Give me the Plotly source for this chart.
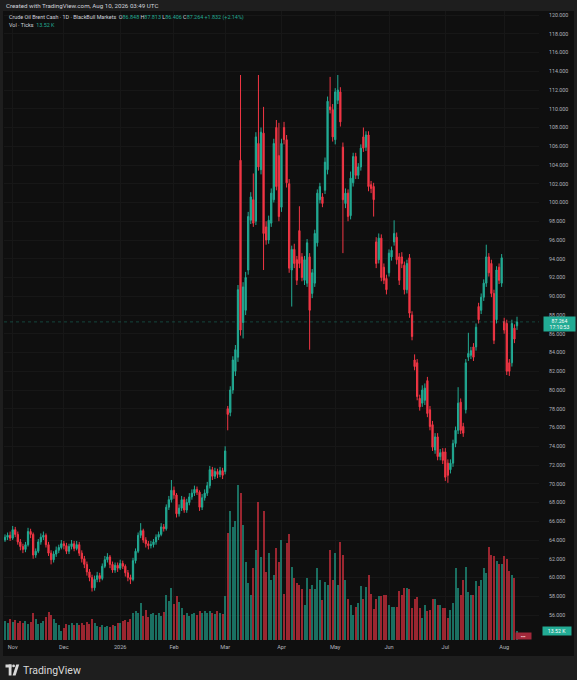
import plotly.graph_objects as go

# ---------------- data ----------------
open_ = [
    64.0, 64.3, 64.5, 64.2, 65.1, 64.6, 63.8, 63.3, 63.0, 63.5,
    64.9, 64.6, 62.4, 62.8, 63.8, 64.3, 64.5, 63.5, 62.6, 61.9,
    62.5, 62.9, 63.2, 63.6, 63.4, 62.8, 63.3, 63.6, 63.1, 63.5,
    62.6, 62.0, 61.4, 60.6, 60.0, 58.9, 59.8, 60.2, 59.9, 61.2,
    61.9, 62.2, 61.4, 60.8, 61.3, 61.0, 61.5, 61.2, 60.5, 60.0,
    59.8, 61.8, 62.8, 64.5, 65.0, 64.0, 63.6, 63.4, 63.5, 63.8,
    64.3, 64.6, 65.4, 65.2, 67.5, 68.3, 69.3, 68.8, 66.8, 67.4,
    68.3, 67.2, 68.0, 68.6, 69.0, 69.4, 69.1, 67.5, 68.5, 69.0,
    69.8, 71.5, 70.8, 71.3, 71.0, 71.4,
    71.3, 78.0, 77.6, 80.0, 82.0, 83.5, 104.5, 87.2, 88.5, 92.8,
    98.1, 100.3, 98.0, 106.3, 103.5, 107.4, 97.4, 96.0, 97.8, 100.3,
    108.0, 105.0, 99.5, 108.0, 106.7, 102.0, 92.8, 95.0, 93.9, 97.0,
    94.2, 91.7, 91.4, 94.2, 90.3, 91.4, 95.7, 100.3, 100.6, 101.3,
    103.5, 110.2, 109.9, 106.7, 110.9, 111.8, 105.9, 99.9, 101.0, 98.6,
    102.1, 104.9, 102.9, 103.8, 107.0, 105.9, 107.2, 101.9, 101.7, 95.8,
    93.9, 96.2, 93.1, 91.9, 92.5, 94.2, 95.8, 96.3, 94.2, 94.2,
    93.3, 90.7, 94.1, 88.0, 83.2, 82.9, 79.1, 78.6, 78.9, 81.0,
    77.9, 76.3, 73.6, 75.0, 72.9, 73.4, 73.4, 72.2, 71.5, 72.2,
    74.3, 75.7, 78.7, 76.1, 77.9, 83.5, 83.7, 84.6, 84.6, 88.9,
    88.5, 89.9, 91.4, 94.2, 93.5, 90.3, 87.5, 93.1, 91.4, 87.3,
    87.1, 82.9, 82.9, 86.6, 86.848,
]
high = [
    64.6, 64.8, 64.9, 65.5, 65.4, 64.9, 64.1, 63.6, 63.8, 65.3,
    65.2, 64.8, 63.1, 64.1, 64.7, 64.9, 64.7, 63.8, 62.9, 62.8,
    63.3, 63.5, 64.0, 63.9, 63.7, 63.6, 64.0, 63.9, 63.9, 63.8,
    62.9, 62.3, 61.7, 60.9, 60.3, 60.2, 60.6, 60.5, 61.5, 62.3,
    62.6, 62.4, 61.7, 61.6, 61.6, 61.9, 61.8, 61.4, 60.8, 60.3,
    62.1, 63.1, 64.8, 65.8, 65.2, 64.3, 63.9, 63.9, 64.1, 64.6,
    64.9, 65.8, 65.7, 67.8, 68.7, 70.4, 69.7, 69.0, 67.8, 68.7,
    68.6, 68.4, 69.0, 69.4, 69.8, 69.7, 69.3, 68.9, 69.4, 70.2,
    71.9, 71.8, 71.7, 71.6, 71.8, 71.7,
    74.0, 78.3, 80.4, 83.6, 84.8, 91.2, 113.6, 91.5, 92.6, 99.0,
    101.1, 103.1, 107.5, 113.6, 108.0, 110.2, 98.0, 98.6, 101.5, 106.8,
    108.8, 108.5, 106.8, 108.6, 107.2, 102.5, 95.4, 95.6, 94.3, 99.6,
    94.6, 94.3, 96.1, 94.6, 92.9, 97.1, 101.4, 102.1, 101.0, 104.8,
    111.3, 113.4, 110.5, 112.2, 113.6, 112.3, 106.4, 101.5, 101.4, 103.3,
    105.3, 105.3, 104.2, 106.2, 108.0, 107.6, 107.6, 102.3, 102.1, 96.3,
    96.7, 96.6, 93.5, 92.3, 95.0, 95.3, 98.1, 96.8, 94.6, 94.7,
    93.7, 93.9, 94.5, 88.4, 83.8, 83.3, 79.5, 80.5, 80.7, 81.4,
    78.3, 76.7, 75.4, 75.4, 73.7, 73.8, 73.8, 72.6, 72.6, 74.7,
    76.1, 80.3, 79.1, 76.5, 83.3, 86.1, 84.6, 85.0, 87.1, 89.3,
    90.3, 91.8, 95.5, 94.6, 93.9, 90.7, 93.2, 93.5, 94.5, 87.7,
    87.5, 83.3, 87.5, 87.0, 87.813,
]
low = [
    63.8, 64.0, 63.9, 64.0, 64.3, 63.5, 62.9, 62.6, 62.7, 63.3,
    64.2, 62.0, 62.1, 62.6, 63.5, 64.0, 63.2, 62.3, 61.4, 61.6,
    62.2, 62.6, 63.0, 63.0, 62.5, 62.5, 63.0, 62.8, 62.9, 62.3,
    61.6, 61.0, 60.2, 59.6, 58.5, 58.6, 59.5, 59.5, 59.7, 61.0,
    61.6, 61.0, 60.5, 60.5, 60.6, 60.8, 60.9, 60.1, 59.6, 59.3,
    59.6, 61.5, 62.6, 64.2, 63.7, 63.2, 63.0, 63.1, 63.2, 63.5,
    64.0, 64.4, 64.9, 65.0, 67.2, 68.0, 68.4, 66.4, 66.5, 67.1,
    66.9, 66.9, 67.7, 68.3, 68.7, 68.8, 67.1, 67.2, 68.2, 68.7,
    69.5, 70.4, 70.5, 70.6, 70.7, 70.5,
    71.0, 75.7, 77.2, 79.6, 81.5, 83.0, 85.8, 85.5, 88.0, 92.3,
    97.7, 97.4, 97.6, 103.4, 103.0, 92.8, 95.5, 95.6, 97.4, 100.0,
    101.3, 98.0, 99.0, 106.2, 101.6, 92.5, 88.9, 93.0, 91.2, 93.0,
    91.6, 91.2, 91.0, 84.3, 89.8, 91.0, 95.3, 99.9, 99.5, 100.9,
    103.0, 109.5, 106.5, 106.2, 110.5, 108.1, 94.6, 99.4, 98.0, 98.2,
    101.7, 102.5, 102.5, 103.4, 105.4, 105.5, 101.2, 101.0, 98.5, 93.0,
    93.5, 91.6, 91.3, 90.2, 92.1, 93.8, 95.4, 93.4, 91.2, 93.0,
    90.2, 90.3, 87.7, 85.3, 82.1, 78.9, 77.8, 78.2, 78.4, 77.1,
    75.7, 73.5, 73.2, 72.5, 72.5, 72.1, 70.3, 70.1, 71.1, 71.8,
    73.9, 75.3, 75.3, 75.0, 77.5, 83.1, 83.3, 83.1, 84.2, 87.1,
    88.1, 89.5, 91.0, 92.1, 89.9, 84.9, 87.1, 91.3, 91.0, 86.0,
    81.6, 81.5, 82.5, 85.0, 86.406,
]
close = [
    64.3, 64.5, 64.2, 65.1, 64.6, 63.8, 63.3, 63.0, 63.5, 64.9,
    64.6, 62.4, 62.8, 63.8, 64.3, 64.5, 63.5, 62.6, 61.9, 62.5,
    62.9, 63.2, 63.6, 63.4, 62.8, 63.3, 63.6, 63.1, 63.5, 62.6,
    62.0, 61.4, 60.6, 60.0, 58.9, 59.8, 60.2, 59.9, 61.2, 61.9,
    62.2, 61.4, 60.8, 61.3, 61.0, 61.5, 61.2, 60.5, 60.0, 59.8,
    61.8, 62.8, 64.5, 65.0, 64.0, 63.6, 63.4, 63.5, 63.8, 64.3,
    64.6, 65.4, 65.2, 67.5, 68.3, 69.3, 68.8, 66.8, 67.4, 68.3,
    67.2, 68.0, 68.6, 69.0, 69.4, 69.1, 67.5, 68.5, 69.0, 69.8,
    71.5, 70.8, 71.3, 71.0, 71.4, 70.9,
    73.5, 77.4, 80.0, 83.2, 84.3, 90.7, 86.4, 91.0, 92.0, 98.5,
    100.6, 97.8, 107.0, 103.8, 107.5, 96.7, 96.0, 98.1, 101.0, 106.3,
    101.7, 98.5, 106.3, 106.7, 102.1, 93.0, 95.0, 93.5, 91.7, 93.5,
    92.0, 93.9, 95.7, 88.5, 92.5, 96.7, 101.0, 101.7, 99.9, 104.3,
    110.8, 109.9, 107.0, 111.8, 112.0, 108.6, 100.3, 101.0, 98.5, 102.6,
    104.9, 102.9, 103.8, 105.8, 105.8, 107.2, 101.7, 101.5, 100.3, 93.5,
    96.2, 92.0, 91.7, 90.7, 94.6, 94.9, 96.7, 93.9, 91.7, 93.5,
    90.7, 93.5, 88.2, 85.7, 82.5, 79.3, 78.2, 80.0, 80.2, 77.5,
    76.1, 73.9, 75.0, 72.9, 73.3, 72.5, 70.7, 70.9, 72.2, 74.3,
    75.7, 78.6, 75.7, 75.4, 82.9, 83.9, 84.2, 83.5, 86.7, 87.5,
    89.9, 91.4, 94.2, 92.5, 90.3, 85.3, 92.8, 91.7, 94.1, 86.4,
    82.0, 82.0, 87.1, 85.432, 87.264,
]
# volume in thousands of ticks
volume_k = [
    29, 26, 31, 27, 30, 25, 28, 26, 28, 24,
    27, 41, 31, 24, 26, 29, 35, 42, 38, 32,
    25, 22, 14, 18, 24, 22, 26, 23, 25, 23,
    26, 23, 27, 24, 31, 26, 21, 19, 22, 19,
    21, 20, 23, 21, 25, 26, 28, 30, 27, 31,
    40, 43, 41, 55, 36, 45, 34, 39, 40, 37,
    41, 36, 42, 68, 59, 78, 54, 66, 57, 48,
    38, 40, 36, 39, 41, 37, 43, 40, 43, 41,
    44, 41, 39, 43, 41, 39,
    66, 161, 193, 170, 179, 233, 221, 173, 117, 86,
    68, 108, 135, 207, 124, 193, 102, 131, 90, 97,
    138, 117, 150, 69, 145, 159, 110, 93, 86, 83,
    76, 52, 93, 76, 83, 76, 108, 90, 60, 87,
    83, 135, 90, 131, 83, 147, 128, 90, 62, 52,
    37, 50, 55, 81, 62, 79, 97, 69, 46, 62,
    66, 66, 68, 68, 52, 50, 50, 50, 73, 68,
    78, 78, 76, 48, 62, 64, 48, 33, 52, 43,
    45, 62, 61, 52, 52, 48, 48, 33, 45, 55,
    108, 78, 68, 90, 110, 72, 68, 68, 88, 81,
    90, 108, 101, 140, 128, 126, 119, 114, 114, 126,
    122, 104, 97, 93, 13.52,
]
month_labels = ["Nov", "Dec", "2026", "Feb", "Mar", "Apr", "May", "Jun", "Jul", "Aug"]
month_idx = [3, 23, 45, 66, 86, 108, 129, 150, 172, 195]
price_ticks = list(range(56, 121, 2))

assert len(open_) == len(high) == len(low) == len(close) == len(volume_k)

# ---------------- layout geometry ----------------
N = len(close)
idx = list(range(N))
W, H = 577, 680
L, R, T, B = 4, 38, 11, 40
pw, ph = W - L - R, H - T - B
first_px, last_px = 5, 517
s = (last_px - first_px) / (N - 1)
x0 = -(first_px - L) / s
x1 = (N - 1) + (L + pw - last_px) / s
ppu = 9.375
ytop = 120 + (15 - T) / ppu
ybot = 120 - (T + ph - 15) / ppu
vmax = ph * 1.5


def px_x(px):
    return (px - L) / pw


def px_y(py):
    return (T + ph - py) / ph


UP, DN = "#22ab94", "#f23645"
FONT = "Roboto"
GRAY = "#b2b5be"

vol_colors = ["rgba(34,171,148,0.62)" if c >= o else "rgba(242,54,69,0.62)"
              for o, c in zip(open_, close)]

fig = go.Figure()
fig.add_trace(go.Bar(x=idx, y=volume_k, yaxis="y2", marker_color=vol_colors,
                     marker_line_width=0, width=0.78, hoverinfo="skip"))
fig.add_trace(go.Candlestick(
    x=idx, open=open_, high=high, low=low, close=close,
    increasing=dict(line=dict(color=UP, width=1), fillcolor=UP),
    decreasing=dict(line=dict(color=DN, width=1), fillcolor=DN),
    whiskerwidth=0, hoverinfo="skip"))

last = close[-1]
prev = close[-2]
chg = last - prev
pct = chg / prev * 100

g = lambda t: f"<span style='color:{UP}'>{t}</span>"
header = ("Crude Oil Brent Cash · 1D · BlackBull Markets  "
          f"O{g(f'{open_[-1]:.3f}')} H{g(f'{high[-1]:.3f}')} "
          f"L{g(f'{low[-1]:.3f}')} C{g(f'{last:.3f}')} "
          f"{g(f'{chg:+.3f} ({pct:+.2f}%)')}")

annotations = [
    dict(text="Created with TradingView.com, Aug 10, 2026 03:49 UTC",
         x=px_x(4), y=px_y(5.5), xref="paper", yref="paper", xanchor="left",
         yanchor="middle", showarrow=False, font=dict(size=6.2, color="#d1d4dc", family=FONT)),
    dict(text=header, x=px_x(7), y=px_y(17.5), xref="paper", yref="paper",
         xanchor="left", yanchor="middle", showarrow=False,
         font=dict(size=5.4, color="#d1d4dc", family=FONT)),
    dict(text="Vol · Ticks  " + g(f"{volume_k[-1]:.2f} K"), x=px_x(7), y=px_y(25),
         xref="paper", yref="paper", xanchor="left", yanchor="middle", showarrow=False,
         font=dict(size=5.4, color="#d1d4dc", family=FONT)),
    dict(text=f"{last:.3f}<br>17:10:53", x=px_x(559), y=last, xref="paper", yref="y",
         xanchor="center", yanchor="middle", showarrow=False, bgcolor=UP, yshift=-2,
         width=30, borderpad=0.5, font=dict(size=5.1, color="#ffffff", family=FONT)),
    dict(text=f"{volume_k[-1]:.2f} K", x=px_x(557), y=volume_k[-1], xref="paper", yref="y2",
         xanchor="center", yanchor="middle", showarrow=False, bgcolor=UP,
         width=26, borderpad=1, font=dict(size=5.2, color="#ffffff", family=FONT)),
    dict(text="▪▪▪", x=px_x(523.5), y=px_y(635.5), xref="paper", yref="paper",
         xanchor="center", yanchor="middle", showarrow=False, bgcolor="#a1283a",
         width=14, borderpad=0.5, font=dict(size=4.5, color="#f3c2c8", family=FONT)),
    dict(text="TradingView", x=px_x(21), y=px_y(670), xref="paper", yref="paper",
         xanchor="left", yanchor="middle", showarrow=False,
         font=dict(size=10.5, color="#d9d9d9", family=FONT)),
]

shapes = [
    dict(type="rect", xref="paper", yref="paper", x0=px_x(3), x1=px_x(574),
         y0=px_y(11), y1=px_y(656), fillcolor="#0f0f0f", line_width=0, layer="below"),
    dict(type="line", xref="paper", yref="y", x0=0, x1=1, y0=last, y1=last,
         line=dict(color="rgba(34,171,148,0.35)", width=1, dash="dot")),
    # TradingView logo
    dict(type="rect", xref="paper", yref="paper", x0=px_x(5.5), x1=px_x(11.5),
         y0=px_y(664.5), y1=px_y(667.5), fillcolor="#d9d9d9", line_width=0),
    dict(type="rect", xref="paper", yref="paper", x0=px_x(8.7), x1=px_x(11.5),
         y0=px_y(664.5), y1=px_y(675.5), fillcolor="#d9d9d9", line_width=0),
    dict(type="circle", xref="paper", yref="paper", x0=px_x(12.2), x1=px_x(15.0),
         y0=px_y(664.5), y1=px_y(667.3), fillcolor="#d9d9d9", line_width=0),
    dict(type="path", xref="paper", yref="paper",
         path=(f"M {px_x(12.6)},{px_y(675.5)} L {px_x(15.6)},{px_y(675.5)} "
               f"L {px_x(19.2)},{px_y(664.5)} L {px_x(16.2)},{px_y(664.5)} Z"),
         fillcolor="#d9d9d9", line_width=0),
]

fig.update_layout(
    width=W, height=H, margin=dict(l=L, r=R, t=T, b=B, pad=0),
    paper_bgcolor="#1e1e1e", plot_bgcolor="#0f0f0f",
    showlegend=False, bargap=0, hovermode=False,
    annotations=annotations, shapes=shapes,
    xaxis=dict(range=[x0, x1], tickmode="array", tickvals=month_idx, ticktext=month_labels,
               showgrid=True, gridcolor="#171717", gridwidth=1, zeroline=False,
               showline=False, ticks="", rangeslider=dict(visible=False),
               tickfont=dict(size=5.6, color=GRAY, family=FONT), ticklabelstandoff=2,
               fixedrange=True),
    yaxis=dict(range=[ybot, ytop], side="right", tickmode="array", tickvals=price_ticks,
               ticktext=[f"{v:.3f}" for v in price_ticks], showgrid=True,
               gridcolor="#171717", gridwidth=1, zeroline=False, showline=False, ticks="",
               tickfont=dict(size=5.3, color=GRAY, family=FONT), ticklabelstandoff=9,
               fixedrange=True),
    yaxis2=dict(range=[0, vmax], overlaying="y", visible=False, fixedrange=True),
)

fig.write_html(
    "out.html",
    config={"displayModeBar": False, "staticPlot": True},
    post_script="document.body.style.margin='0';document.body.style.padding='0';"
                "document.body.style.background='#1e1e1e';",
)
